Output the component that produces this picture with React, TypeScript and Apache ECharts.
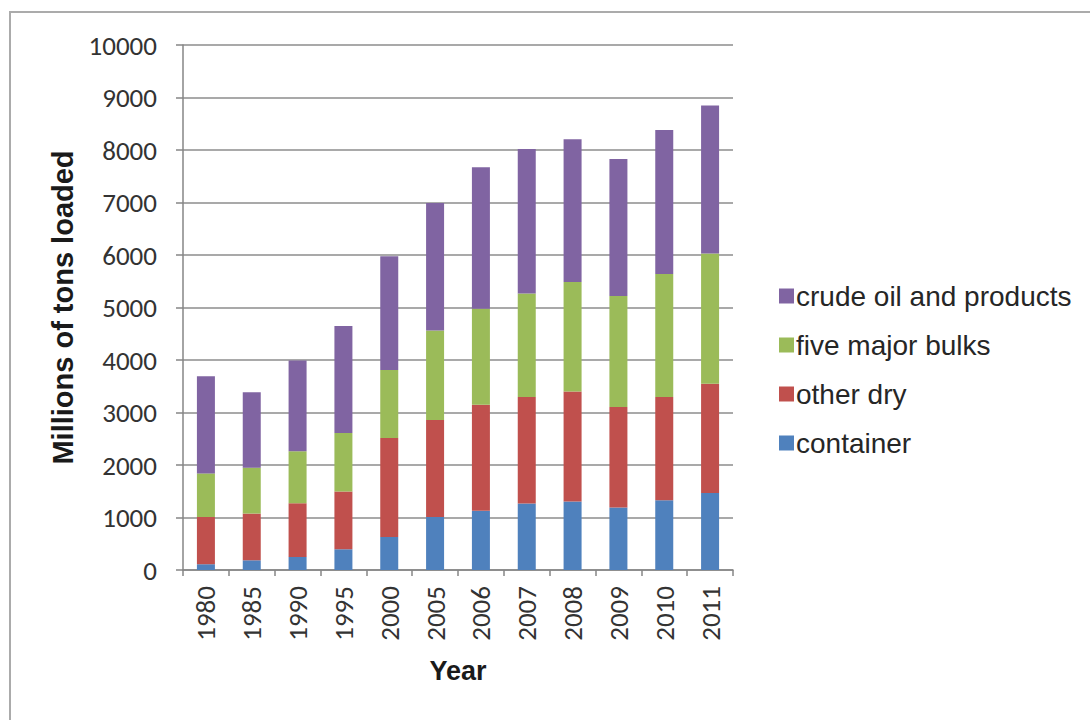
import React, { useEffect, useRef } from "react";
import * as echarts from "echarts";

// Seaborne trade, millions of tons loaded, by cargo type
const years = ["1980", "1985", "1990", "1995", "2000", "2005", "2006", "2007", "2008", "2009", "2010", "2011"];
const container = [110, 185, 250, 395, 630, 1010, 1130, 1265, 1305, 1190, 1330, 1465];
const otherDry = [900, 890, 1020, 1100, 1885, 1845, 2020, 2030, 2095, 1915, 1965, 2085];
const fiveMajorBulks = [830, 875, 990, 1115, 1295, 1705, 1825, 1970, 2085, 2115, 2345, 2480];
const crudeOil = [1850, 1435, 1730, 2040, 2165, 2430, 2695, 2755, 2720, 2610, 2740, 2820];

const seriesNames = ["container", "other dry", "five major bulks", "crude oil and products"];
const seriesColors = ["#4F81BD", "#C0504D", "#9BBB59", "#8064A2"];
const legendOrder = ["crude oil and products", "five major bulks", "other dry", "container"];

const tickFont = "Carlito, Lato, 'Liberation Sans', sans-serif";
const textFont = "'Liberation Sans', Arial, sans-serif";

export default function App() {
  const ref = useRef<HTMLDivElement>(null);

  useEffect(() => {
    if (!ref.current) return;
    const chart = echarts.init(ref.current, undefined, { renderer: "svg" });
    const values = [container, otherDry, fiveMajorBulks, crudeOil];

    chart.setOption({
      animation: false,
      backgroundColor: "#ffffff",
      grid: { left: 183, right: 357, top: 45, bottom: 150, containLabel: false },
      legend: {
        orient: "vertical",
        left: 774,
        top: 277,
        data: legendOrder,
        icon: "rect",
        itemWidth: 15,
        itemHeight: 15,
        itemGap: 21,
        textStyle: { fontFamily: textFont, fontSize: 28, color: "#262626", padding: [0, 0, 0, -3] },
        selectedMode: false,
      },
      xAxis: {
        type: "category",
        data: years,
        name: "Year",
        nameLocation: "middle",
        nameGap: 87,
        nameTextStyle: { fontFamily: textFont, fontSize: 27, fontWeight: "bold", color: "#1a1a1a" },
        axisLine: { show: true, lineStyle: { color: "#868686", width: 1.5 } },
        axisTick: { show: true, alignWithLabel: false, length: 6, lineStyle: { color: "#868686", width: 1.5 } },
        axisLabel: {
          rotate: 90,
          margin: 16,
          fontFamily: tickFont,
          fontSize: 27,
          color: "#333333",
        },
      },
      yAxis: {
        type: "value",
        min: 0,
        max: 10000,
        interval: 1000,
        name: "Millions of tons loaded",
        nameLocation: "middle",
        nameGap: 103,
        nameTextStyle: { fontFamily: textFont, fontSize: 29, fontWeight: "bold", color: "#1a1a1a" },
        axisLine: { show: true, lineStyle: { color: "#868686", width: 1.5 } },
        axisTick: { show: true, length: 7, lineStyle: { color: "#868686", width: 1.5 } },
        axisLabel: {
          margin: 26,
          fontFamily: tickFont,
          fontSize: 27,
          color: "#333333",
          formatter: (v: number) => String(v),
        },
        splitLine: { show: true, lineStyle: { color: "#8c8c8c", width: 1.5 } },
      },
      series: seriesNames.map((name, i) => ({
        name,
        type: "bar",
        stack: "total",
        barWidth: 18,
        data: values[i],
        itemStyle: { color: seriesColors[i] },
      })),
      graphic: [
        {
          type: "line",
          shape: { x1: 9, y1: 12, x2: 1090, y2: 12 },
          style: { stroke: "#ababab", lineWidth: 2 },
        },
        {
          type: "line",
          shape: { x1: 10, y1: 12, x2: 10, y2: 720 },
          style: { stroke: "#ababab", lineWidth: 2 },
        },
      ],
    });

    return () => chart.dispose();
  }, []);

  return (
    <div
      ref={ref}
      style={{ position: "absolute", left: 0, top: 0, width: 1090, height: 720 }}
    />
  );
}
